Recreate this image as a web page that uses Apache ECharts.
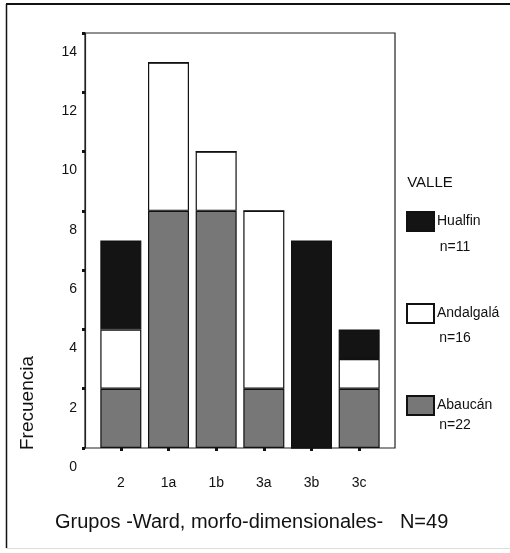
<!DOCTYPE html>
<html>
<head>
<meta charset="utf-8">
<script src="https://cdn.jsdelivr.net/npm/echarts@6/dist/echarts.min.js"></script>
<style>
  html, body { margin: 0; padding: 0; background: #fff; }
  #main { width: 510px; height: 553px; }
</style>
</head>
<body>
<div id="main"></div>
<script>
// grupos Ward (eje x)
const categories = ['2', '1a', '1b', '3a', '3b', '3c'];
// frecuencia por valle
const abaucan   = [2, 8, 8, 2, 0, 2];
const andalgala = [2, 5, 2, 6, 0, 1];
const hualfin   = [3, 0, 0, 0, 7, 1];

const font = 'Liberation Sans, Arial, sans-serif';
const sum = a => a.reduce((s, v) => s + v, 0);

const barStyle = (color) => ({
  color: color,
  borderColor: '#111',
  borderWidth: 1.2
});

const chart = echarts.init(document.getElementById('main'));

const option = {
  backgroundColor: '#fff',
  animation: false,
  grid: [
    // marco del grafico
    { left: 85, right: 115, top: 33, bottom: 105,
      show: true, borderColor: '#222', borderWidth: 1.2 },
    // zona de barras (mas estrecha, como en SPSS)
    { left: 97, right: 127, top: 33, bottom: 105 }
  ],
  xAxis: [
    { type: 'value', gridIndex: 0, min: 0, max: 1, show: false },
    {
      type: 'category', gridIndex: 1,
      data: categories,
      axisLine: { show: false },
      axisTick: { show: true, alignWithLabel: true, length: 3,
                  lineStyle: { color: '#111', width: 3 } },
      axisLabel: { margin: 28, fontFamily: font, fontSize: 14, color: '#111' }
    }
  ],
  yAxis: [
    {
      type: 'value', gridIndex: 0,
      min: 0, max: 14, interval: 2,
      splitLine: { show: false },
      axisLine: { show: true, lineStyle: { color: '#222', width: 1.2 } },
      axisTick: { show: true, length: 3, lineStyle: { color: '#111', width: 3 } },
      axisLabel: {
        margin: 8, fontFamily: font, fontSize: 14, color: '#111',
        verticalAlign: 'top', padding: [12, 0, 0, 0]
      }
    },
    { type: 'value', gridIndex: 1, min: 0, max: 14, show: false }
  ],
  legend: {
    orient: 'vertical',
    left: 406, top: 211, padding: 0,
    itemWidth: 27, itemHeight: 19, itemGap: 71,
    icon: 'rect',
    data: ['Hualfin', 'Andalgalá', 'Abaucán'],
    textStyle: { fontFamily: font, fontSize: 14, color: '#111', padding: [0, 0, 0, -2] }
  },
  series: [
    { name: 'Abaucán', type: 'bar', stack: 'valle', barWidth: 41,
      xAxisIndex: 1, yAxisIndex: 1,
      itemStyle: barStyle('#777777'), data: abaucan },
    { name: 'Andalgalá', type: 'bar', stack: 'valle', barWidth: 41,
      xAxisIndex: 1, yAxisIndex: 1,
      itemStyle: barStyle('#ffffff'), data: andalgala },
    { name: 'Hualfin', type: 'bar', stack: 'valle', barWidth: 41,
      xAxisIndex: 1, yAxisIndex: 1,
      itemStyle: barStyle('#141414'), data: hualfin }
  ],
  graphic: [
    // marco exterior
    { type: 'line', shape: { x1: 6, y1: 4, x2: 510, y2: 4 }, style: { stroke: '#111', lineWidth: 2 } },
    { type: 'line', shape: { x1: 6.5, y1: 4, x2: 6.5, y2: 548 }, style: { stroke: '#111', lineWidth: 1.5 } },
    { type: 'line', shape: { x1: 6, y1: 548.5, x2: 510, y2: 548.5 }, style: { stroke: '#ddd', lineWidth: 1 } },
    // titulos
    { type: 'text', x: 28, y: 403, rotation: Math.PI / 2,
      style: { text: 'Frecuencia', font: '19px ' + font, fill: '#111', align: 'center', verticalAlign: 'middle' } },
    { type: 'text', x: 55, y: 522,
      style: { text: 'Grupos -Ward, morfo-dimensionales-   N=' + (sum(abaucan) + sum(andalgala) + sum(hualfin)),
               font: '20px ' + font, fill: '#111', verticalAlign: 'middle' } },
    { type: 'text', x: 430, y: 183,
      style: { text: 'VALLE', font: '15px ' + font, fill: '#111', align: 'center', verticalAlign: 'middle' } },
    { type: 'text', x: 455, y: 247,
      style: { text: 'n=' + sum(hualfin), font: '14px ' + font, fill: '#111', align: 'center', verticalAlign: 'middle' } },
    { type: 'text', x: 455, y: 338,
      style: { text: 'n=' + sum(andalgala), font: '14px ' + font, fill: '#111', align: 'center', verticalAlign: 'middle' } },
    { type: 'text', x: 455, y: 425,
      style: { text: 'n=' + sum(abaucan), font: '14px ' + font, fill: '#111', align: 'center', verticalAlign: 'middle' } }
  ]
};

chart.setOption(option);
</script>
</body>
</html>
